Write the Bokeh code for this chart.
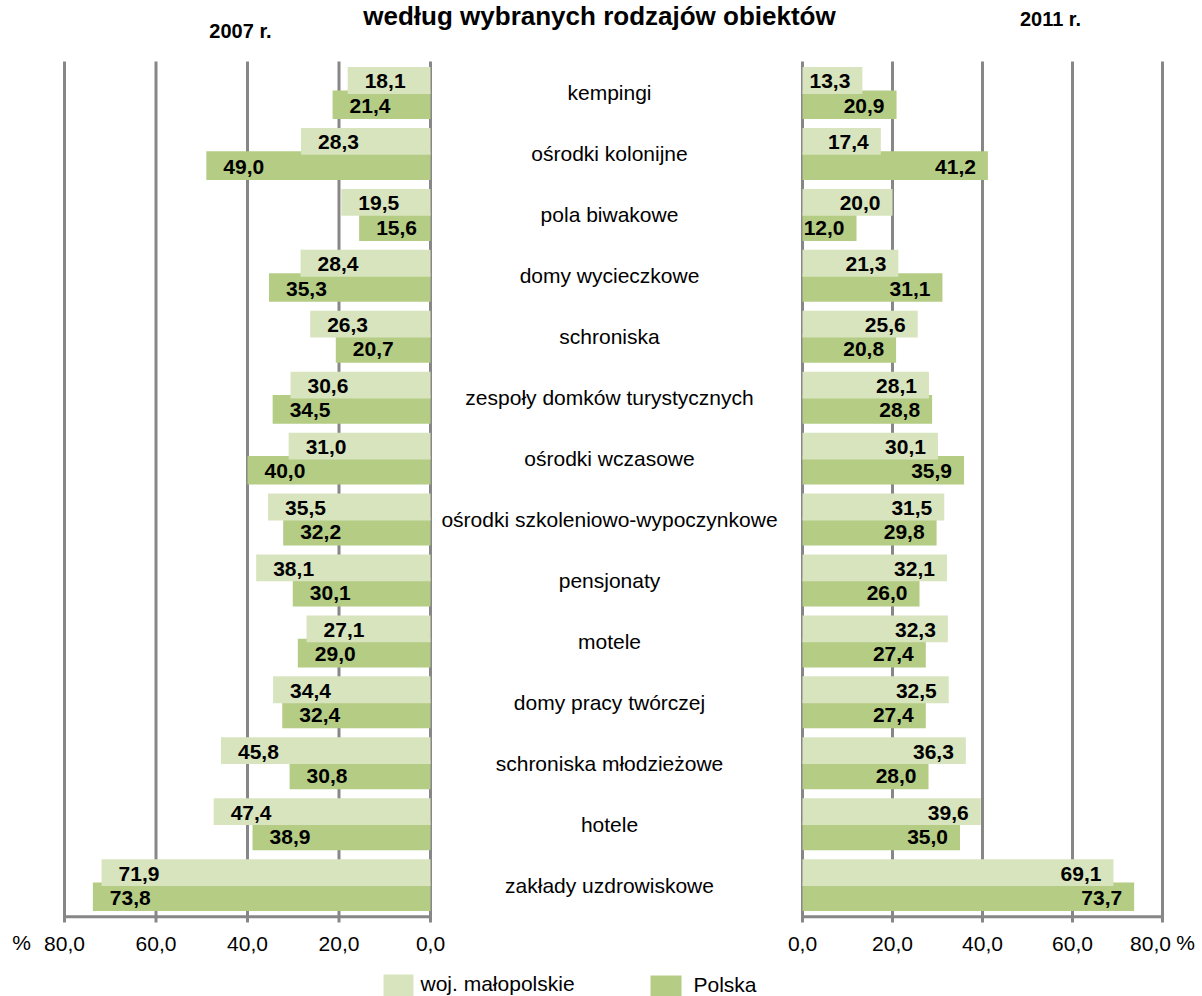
from bokeh.plotting import figure
from bokeh.models import Range1d, ColumnDataSource
from bokeh.core.properties import value
from bokeh.embed import file_html
from bokeh.resources import INLINE

# ---------------- data ----------------
categories = [
    "kempingi", "ośrodki kolonijne", "pola biwakowe", "domy wycieczkowe",
    "schroniska", "zespoły domków turystycznych", "ośrodki wczasowe",
    "ośrodki szkoleniowo-wypoczynkowe", "pensjonaty", "motele",
    "domy pracy twórczej", "schroniska młodzieżowe", "hotele",
    "zakłady uzdrowiskowe",
]
malopolskie_2007 = [18.1, 28.3, 19.5, 28.4, 26.3, 30.6, 31.0, 35.5, 38.1, 27.1, 34.4, 45.8, 47.4, 71.9]
polska_2007 = [21.4, 49.0, 15.6, 35.3, 20.7, 34.5, 40.0, 32.2, 30.1, 29.0, 32.4, 30.8, 38.9, 73.8]
malopolskie_2011 = [13.3, 17.4, 20.0, 21.3, 25.6, 28.1, 30.1, 31.5, 32.1, 32.3, 32.5, 36.3, 39.6, 69.1]
polska_2011 = [20.9, 41.2, 12.0, 31.1, 20.8, 28.8, 35.9, 29.8, 26.0, 27.4, 27.4, 28.0, 35.0, 73.7]
ticks = [0, 20, 40, 60, 80]
series_names = ["woj. małopolskie", "Polska"]
title_text = "według wybranych rodzajów obiektów"
year_left = "2007 r."
year_right = "2011 r."

# ---------------- styles / layout ----------------
LIGHT = "#D7E4BD"
DARK = "#B4CC84"
GRID = "#878787"
FONT = value("Liberation Sans")

W, H = 1202, 996
OX, OY = 0, 0
# panel geometry (page pixels)
L_80, L_0 = 64, 430
R_0, R_80 = 802, 1162
CAT_TOP, CAT_BOT = 62, 915
N = len(categories)


def fmt(v):
    return f"{v:.1f}".replace(".", ",")


kL = (L_0 - L_80) / 80.0
kR = (R_80 - R_0) / 80.0
kC = (CAT_BOT - CAT_TOP) / float(N)

rangeL = Range1d(start=80 + (L_80 - OX) / kL, end=0 - (OX + W - L_0) / kL)
rangeR = Range1d(start=0 - (R_0 - OX) / kR, end=80 + (OX + W - R_80) / kR)
rangeC = Range1d(start=N + (OY + H - CAT_BOT) / kC, end=0 - (CAT_TOP - OY) / kC)

p = figure(width=W, height=H,
           x_range=Range1d(OX, OX + W), y_range=Range1d(OY + H, OY),
           x_axis_type=None, y_axis_type=None,
           toolbar_location=None, output_backend="svg", min_border=0)
p.outline_line_color = None
p.background_fill_color = "white"
p.extra_x_ranges = {"L": rangeL, "R": rangeR}
p.extra_y_ranges = {"cat": rangeC}

idx = list(range(N))
y_light = [i + 0.5 - 0.205 for i in idx]
y_dark = [i + 0.5 + 0.193 for i in idx]

# ---------------- grid & axis lines ----------------
grid_top = -0.016
grid_bot = N + 0.115
axis_y = N + 0.02
for rn in ("L", "R"):
    p.segment(x0=ticks, x1=ticks, y0=[grid_top] * len(ticks), y1=[grid_bot] * len(ticks),
              x_range_name=rn, y_range_name="cat", line_color=GRID, line_width=3)
    p.segment(x0=[0], x1=[80], y0=[axis_y], y1=[axis_y],
              x_range_name=rn, y_range_name="cat", line_color=GRID, line_width=3)

# ---------------- bars ----------------
panels = [("L", malopolskie_2007, polska_2007, "left", 17),
          ("R", malopolskie_2011, polska_2011, "right", -12)]
for rn, light_vals, dark_vals, align, xoff in panels:
    src_d = ColumnDataSource(dict(y=y_dark, v=dark_vals, lab=[fmt(v) for v in dark_vals]))
    src_l = ColumnDataSource(dict(y=y_light, v=light_vals, lab=[fmt(v) for v in light_vals]))
    p.hbar(y="y", left=0, right="v", height=0.47, source=src_d,
           x_range_name=rn, y_range_name="cat", fill_color=DARK, line_color=None)
    p.hbar(y="y", left=0, right="v", height=0.44, source=src_l,
           x_range_name=rn, y_range_name="cat", fill_color=LIGHT, line_color=None)
    for src in (src_l, src_d):
        p.text(x="v", y="y", text="lab", source=src, x_range_name=rn, y_range_name="cat",
               text_align=align, text_baseline="middle", x_offset=xoff, y_offset=1,
               text_font=FONT, text_font_size="21px", text_font_style="bold",
               text_color="#000000")

# ---------------- category labels ----------------
p.text(x=[609] * N, y=[i + 0.5 for i in idx], text=categories, y_range_name="cat",
       text_align="center", text_baseline="middle",
       text_font=FONT, text_font_size="21px", text_color="#000000")

# ---------------- tick labels ----------------
tick_src_L = ColumnDataSource(dict(x=ticks, lab=[fmt(t) for t in ticks], off=[0, 0, 0, 0, 0]))
tick_src_R = ColumnDataSource(dict(x=ticks, lab=[fmt(t) for t in ticks], off=[0, 0, 0, 0, -12]))
for rn, src in (("L", tick_src_L), ("R", tick_src_R)):
    p.text(x="x", y=943, text="lab", x_offset="off", source=src, x_range_name=rn,
           text_align="center", text_baseline="middle",
           text_font=FONT, text_font_size="21px", text_color="#000000")
p.text(x=[21, 1185], y=[942, 942], text=["%", "%"], text_align="center",
       text_baseline="middle", text_font=FONT, text_font_size="21px", text_color="#000000")

# ---------------- titles ----------------
p.text(x=[599], y=[15], text=[title_text], text_align="center", text_baseline="middle",
       text_font=FONT, text_font_size="26px", text_font_style="bold", text_color="#000000")
p.text(x=[240, 1050], y=[30, 18], text=[year_left, year_right], text_align="center",
       text_baseline="middle", text_font=FONT, text_font_size="20px",
       text_font_style="bold", text_color="#000000")

# ---------------- legend ----------------
p.quad(left=[383, 650], right=[413, 681], top=[974, 975], bottom=[996, 996],
       fill_color=[LIGHT, DARK], line_color=None)
p.text(x=[420, 693], y=[983, 984], text=series_names, text_align="left",
       text_baseline="middle", text_font=FONT, text_font_size="21px", text_color="#000000")

open("out.html", "w").write(file_html(p, INLINE))
